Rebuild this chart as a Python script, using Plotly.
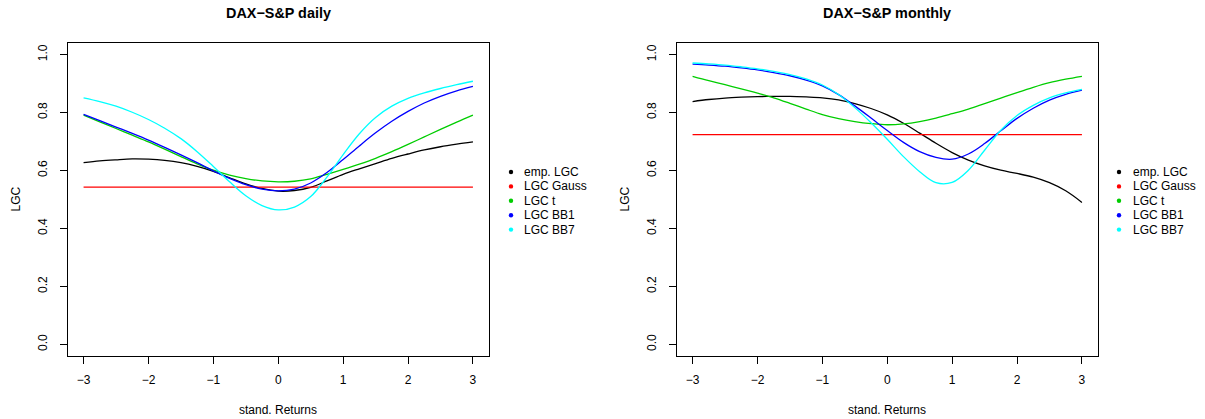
import plotly.graph_objects as go

# ---------------- data ----------------
x_grid = [-3, -2.75, -2.5, -2.25, -2, -1.75, -1.5, -1.25, -1, -0.75, -0.5, -0.25, 0,
          0.25, 0.5, 0.75, 1, 1.25, 1.5, 1.75, 2, 2.25, 2.5, 2.75, 3]

daily_emp = [0.627, 0.633, 0.637, 0.640, 0.639, 0.635, 0.627, 0.614, 0.597, 0.575,
             0.554, 0.538, 0.529, 0.531, 0.542, 0.564, 0.587, 0.606, 0.624, 0.642,
             0.657, 0.671, 0.682, 0.691, 0.699]
daily_gauss = [0.543] * 25
daily_t = [0.791, 0.768, 0.745, 0.722, 0.699, 0.674, 0.648, 0.623, 0.601, 0.584,
           0.572, 0.564, 0.561, 0.563, 0.571, 0.587, 0.604, 0.622, 0.642, 0.665,
           0.690, 0.716, 0.742, 0.767, 0.791]
daily_bb1 = [0.794, 0.772, 0.750, 0.728, 0.705, 0.680, 0.654, 0.627, 0.599, 0.573,
             0.551, 0.536, 0.530, 0.536, 0.557, 0.593, 0.638, 0.685, 0.730, 0.770,
             0.804, 0.833, 0.856, 0.875, 0.890]
daily_bb7 = [0.851, 0.838, 0.822, 0.801, 0.776, 0.746, 0.710, 0.665, 0.614, 0.561,
             0.513, 0.479, 0.464, 0.474, 0.510, 0.577, 0.655, 0.727, 0.783, 0.822,
             0.849, 0.868, 0.883, 0.896, 0.908]

monthly_emp = [0.838, 0.845, 0.850, 0.853, 0.855, 0.856, 0.856, 0.854, 0.851, 0.844,
               0.831, 0.814, 0.792, 0.763, 0.729, 0.694, 0.662, 0.636, 0.616, 0.601,
               0.590, 0.577, 0.558, 0.530, 0.490]
monthly_gauss = [0.724] * 25
monthly_t = [0.925, 0.910, 0.896, 0.882, 0.867, 0.851, 0.832, 0.812, 0.793, 0.779,
             0.769, 0.762, 0.758, 0.761, 0.769, 0.781, 0.796, 0.812, 0.831, 0.850,
             0.869, 0.887, 0.903, 0.915, 0.925]
monthly_bb1 = [0.967, 0.964, 0.960, 0.954, 0.947, 0.938, 0.927, 0.912, 0.892, 0.862,
               0.823, 0.781, 0.738, 0.697, 0.665, 0.645, 0.639, 0.657, 0.693, 0.737,
               0.780, 0.815, 0.843, 0.863, 0.877]
monthly_bb7 = [0.971, 0.968, 0.964, 0.958, 0.951, 0.942, 0.931, 0.916, 0.895, 0.862,
               0.817, 0.765, 0.708, 0.648, 0.596, 0.558, 0.559, 0.601, 0.670, 0.739,
               0.790, 0.825, 0.851, 0.868, 0.880]

series_names = ["emp. LGC", "LGC Gauss", "LGC t", "LGC BB1", "LGC BB7"]
series_colors = ["#000000", "#FF0000", "#00CD00", "#0000FF", "#00FFFF"]
panel_titles = ["DAX\u2212S&P daily", "DAX\u2212S&P monthly"]
x_ticks = [-3, -2, -1, 0, 1, 2, 3]
y_ticks = [0.0, 0.2, 0.4, 0.6, 0.8, 1.0]
y_tick_text = ["0.0", "0.2", "0.4", "0.6", "0.8", "1.0"]
x_label = "stand. Returns"
y_label = "LGC"

panels = [
    [daily_emp, daily_gauss, daily_t, daily_bb1, daily_bb7],
    [monthly_emp, monthly_gauss, monthly_t, monthly_bb1, monthly_bb7],
]

# ---------------- layout geometry (pixels) ----------------
W, H = 1205, 419
box_x = [(68, 488.5), (677, 1097.5)]
box_top, box_bot = 43, 356
legend_dot_x = [511, 1119]
legend_text_x = [522, 1131]
legend_rows = [172, 186.4, 200.8, 215.2, 229.6]
FONT = "Liberation Sans, Arial, Helvetica, sans-serif"


def px(xp):
    return xp / W


def py(yp):
    return 1 - yp / H


fig = go.Figure()

for p, data in enumerate(panels):
    xa = "x" if p == 0 else "x2"
    ya = "y" if p == 0 else "y2"
    for name, color, vals in zip(series_names, series_colors, data):
        fig.add_trace(go.Scatter(
            x=x_grid, y=vals, mode="lines", name=name,
            line=dict(color=color, width=1.3, shape="spline", smoothing=1.0),
            xaxis=xa, yaxis=ya, showlegend=False, hoverinfo="skip"))

axis_common = dict(showgrid=False, zeroline=False, showline=True, linecolor="black",
                   linewidth=1, mirror=True, ticks="outside", ticklen=7, tickwidth=1,
                   tickcolor="black", tickfont=dict(family=FONT, size=12, color="black"))

layout = dict(
    width=W, height=H, margin=dict(l=0, r=0, t=0, b=0),
    paper_bgcolor="white", plot_bgcolor="white", showlegend=False,
    font=dict(family=FONT, size=12, color="black"),
)
for p in range(2):
    sx = "" if p == 0 else "2"
    layout["xaxis" + sx] = dict(
        domain=[px(box_x[p][0]), px(box_x[p][1])], range=[-3.24, 3.24],
        tickvals=x_ticks, anchor="y" + sx, ticklabelstandoff=6, **axis_common)
    layout["yaxis" + sx] = dict(
        domain=[py(box_bot), py(box_top)], range=[-0.04, 1.04],
        tickvals=y_ticks, ticktext=y_tick_text, tickangle=-90,
        anchor="x" + sx, ticklabelstandoff=8, **axis_common)
fig.update_layout(**layout)

annotations = []
shapes = []
for p in range(2):
    cx = (box_x[p][0] + box_x[p][1]) / 2
    annotations.append(dict(text="<b>%s</b>" % panel_titles[p], x=px(cx), y=py(13),
                            xref="paper", yref="paper", showarrow=False,
                            xanchor="center", yanchor="middle",
                            font=dict(family=FONT, size=14.4, color="black")))
    annotations.append(dict(text=x_label, x=px(cx), y=py(410), xref="paper", yref="paper",
                            showarrow=False, xanchor="center", yanchor="middle",
                            font=dict(family=FONT, size=12, color="black")))
    annotations.append(dict(text=y_label, x=px(box_x[p][0] - 52), y=py((box_top + box_bot) / 2),
                            xref="paper", yref="paper", showarrow=False, textangle=-90,
                            xanchor="center", yanchor="middle",
                            font=dict(family=FONT, size=12, color="black")))
    for name, color, ry in zip(series_names, series_colors, legend_rows):
        shapes.append(dict(type="circle", xref="paper", yref="paper",
                           xsizemode="pixel", ysizemode="pixel",
                           xanchor=px(legend_dot_x[p]), yanchor=py(ry),
                           x0=-2.2, x1=2.2, y0=-2.2, y1=2.2,
                           fillcolor=color, line=dict(width=0)))
        annotations.append(dict(text=name, x=px(legend_text_x[p]), y=py(ry),
                                xref="paper", yref="paper", showarrow=False,
                                xanchor="left", yanchor="middle",
                                font=dict(family=FONT, size=12, color="black")))
fig.update_layout(annotations=annotations, shapes=shapes)

fig.write_html("out.html")
